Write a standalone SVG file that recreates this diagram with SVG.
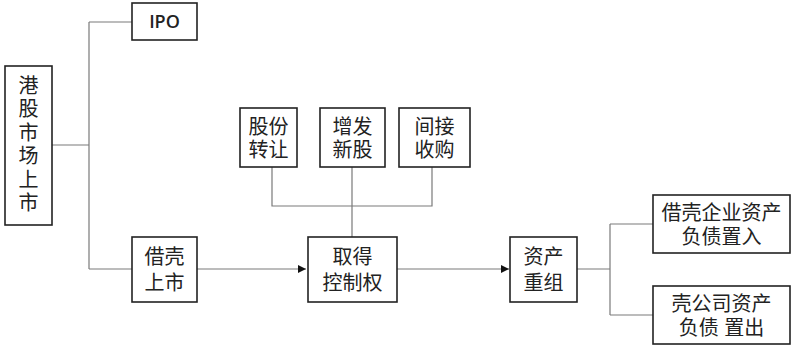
<svg xmlns="http://www.w3.org/2000/svg" width="800" height="351" viewBox="0 0 800 351">
<style>
.box{fill:#fff;stroke:#222;stroke-width:1.6}
.t{font-family:"Liberation Sans","Noto Sans CJK SC",sans-serif;font-size:20px;fill:#222;text-anchor:middle}
.c{fill:none;stroke:#7a7a7a;stroke-width:1.2}
</style>
<defs>
<marker id="ah" viewBox="0 0 10 10" refX="10" refY="5" markerWidth="8" markerHeight="8" markerUnits="userSpaceOnUse" orient="auto"><path d="M0,0L10,5L0,10z" fill="#111"/></marker>
</defs>
<rect width="800" height="351" fill="#fff"/>
<g id="connectors">
<path class="c" d="M52,145H89M89,22V269M89,22H132M89,269H132"/>
<path class="c" d="M197,269H306" marker-end="url(#ah)"/>
<path class="c" d="M272,167V206H432V167M352,167V237"/>
<path class="c" d="M397,269H509" marker-end="url(#ah)"/>
<path class="c" d="M577,269H610M610,224V315M610,224H653M610,315H653"/>
</g>
<g id="hk">
<rect class="box" x="5" y="66" width="47" height="159"/>
<text class="t"><tspan x="28.500" y="92.500">港</tspan><tspan x="28.500" y="116">股</tspan><tspan x="28.500" y="139.500">市</tspan><tspan x="28.500" y="163">场</tspan><tspan x="28.500" y="186.500">上</tspan><tspan x="28.500" y="210">市</tspan></text>
</g>
<g id="ipo">
<rect class="box" x="132" y="3" width="65" height="37"/>
<text x="164.500" y="28" style="font-family:'Open Sans','Liberation Sans',sans-serif;font-size:18px;font-weight:600;fill:#222;text-anchor:middle">IPO</text>
</g>
<g id="jiek">
<rect class="box" x="132" y="237" width="65" height="65"/>
<text class="t"><tspan x="164.500" y="264">借壳</tspan><tspan x="164.500" y="290">上市</tspan></text>
</g>
<g id="gufen">
<rect class="box" x="240" y="108" width="57" height="59"/>
<text class="t"><tspan x="268.500" y="134">股份</tspan><tspan x="268.500" y="157">转让</tspan></text>
</g>
<g id="zengfa">
<rect class="box" x="320" y="108" width="65" height="59"/>
<text class="t"><tspan x="352.500" y="134">增发</tspan><tspan x="352.500" y="157">新股</tspan></text>
</g>
<g id="jianjie">
<rect class="box" x="399" y="108" width="71" height="59"/>
<text class="t"><tspan x="434.500" y="134">间接</tspan><tspan x="434.500" y="157">收购</tspan></text>
</g>
<g id="kongzhi">
<rect class="box" x="308" y="237" width="89" height="65"/>
<text class="t"><tspan x="352.500" y="264">取得</tspan><tspan x="352.500" y="290">控制权</tspan></text>
</g>
<g id="chongzu">
<rect class="box" x="510" y="237" width="67" height="65"/>
<text class="t"><tspan x="543.500" y="264">资产</tspan><tspan x="543.500" y="290">重组</tspan></text>
</g>
<g id="zhiru">
<rect class="box" x="653" y="195" width="137" height="58"/>
<text class="t"><tspan x="721.500" y="220">借壳企业资产</tspan><tspan x="721.500" y="244">负债置入</tspan></text>
</g>
<g id="zhichu">
<rect class="box" x="653" y="286" width="137" height="58"/>
<text class="t"><tspan x="721.500" y="311">壳公司资产</tspan><tspan x="721.500" y="335">负债 置出</tspan></text>
</g>
</svg>
